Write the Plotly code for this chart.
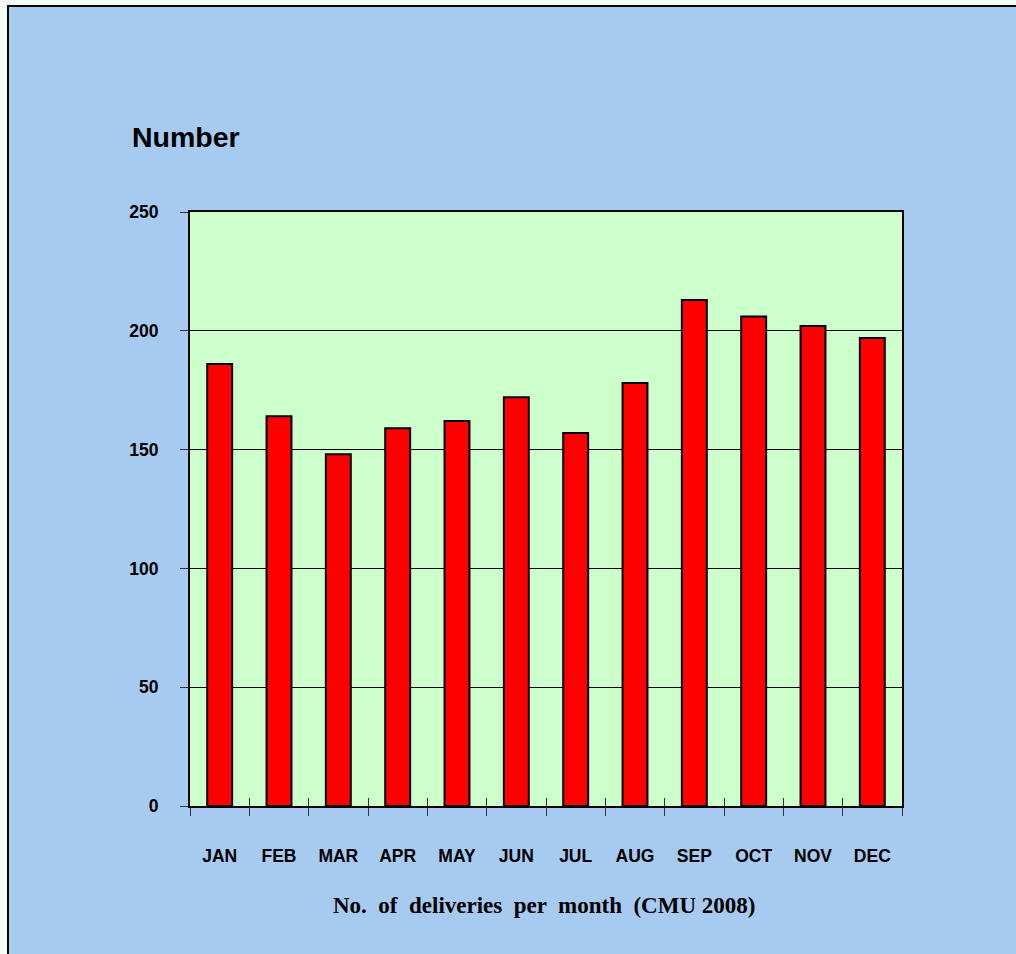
import plotly.graph_objects as go

months = ["JAN", "FEB", "MAR", "APR", "MAY", "JUN", "JUL", "AUG", "SEP", "OCT", "NOV", "DEC"]
deliveries = [186, 164, 148, 159, 162, 172, 157, 178, 213, 206, 202, 197]
y_ticks = [0, 50, 100, 150, 200, 250]

W, H = 1016, 954
L, R, T, B = 190, 114, 212, 148
pw, ph = W - L - R, H - T - B

fig = go.Figure()
fig.add_trace(go.Bar(
    x=months, y=deliveries,
    marker=dict(color="#ff0000", line=dict(color="black", width=2)),
    width=0.42,
))
# invisible trace for inside ticks axis
fig.add_trace(go.Scatter(x=months, y=deliveries, xaxis="x2", mode="markers",
                         marker=dict(opacity=0), hoverinfo="skip", showlegend=False))

def px_x(p):
    return (p - L) / pw

def px_y(p):
    return (H - B - p) / ph

fig.add_shape(type="rect", xref="paper", yref="paper",
              x0=px_x(8), x1=px_x(1030), y0=px_y(6), y1=px_y(980),
              line=dict(color="black", width=2), fillcolor="#a6caf0", layer="below")
fig.add_shape(type="rect", xref="paper", yref="paper",
              x0=0, x1=1, y0=0, y1=1,
              line=dict(width=0), fillcolor="#ccffcc", layer="below")

fig.update_layout(
    width=W, height=H,
    margin=dict(l=L, r=R, t=T, b=B, pad=0),
    paper_bgcolor="#f5fcf6",
    plot_bgcolor="#ccffcc",
    showlegend=False,
    bargap=0.58,
    font=dict(family="Liberation Sans, Arial, sans-serif", color="black"),
    xaxis=dict(
        type="category", tickson="boundaries", ticks="outside", ticklen=8,
        tickwidth=1, tickcolor="#333333",
        showline=True, linecolor="black", linewidth=2, mirror=True,
        showgrid=False, ticklabelstandoff=33,
        tickfont=dict(size=17.5, family="Liberation Sans, Arial, sans-serif", weight="bold"),
        range=[-0.5, 11.5],
    ),
    xaxis2=dict(
        type="category", overlaying="x", matches="x", tickson="boundaries",
        ticks="inside", ticklen=8, tickwidth=1, tickcolor="#333333",
        showticklabels=False, showline=False, showgrid=False, side="bottom",
    ),
    yaxis=dict(
        range=[0, 250], tickvals=y_ticks, ticks="outside", ticklen=8,
        tickwidth=1, tickcolor="#333333",
        showline=True, linecolor="black", linewidth=2, mirror=True,
        showgrid=True, gridcolor="black", gridwidth=1, zeroline=False,
        ticklabelstandoff=18,
        tickfont=dict(size=17.5, family="Liberation Sans, Arial, sans-serif", weight="bold"),
    ),
    annotations=[
        dict(text="Number", xref="paper", yref="paper", x=px_x(130), y=px_y(137),
             xanchor="left", yanchor="middle", showarrow=False,
             font=dict(size=28.5, family="Liberation Sans, Arial, sans-serif",
                       weight="bold", color="black")),
        dict(text="No.  of  deliveries  per  month  (CMU 2008)", xref="paper", yref="paper",
             x=px_x(544), y=px_y(905), xanchor="center", yanchor="middle", showarrow=False,
             font=dict(size=23, family="Liberation Serif, Times New Roman, serif",
                       weight="bold", color="black")),
    ],
)

fig.write_html("out.html", config={"displayModeBar": False},
               post_script="document.body.style.margin='0';document.body.style.overflow='hidden';")
